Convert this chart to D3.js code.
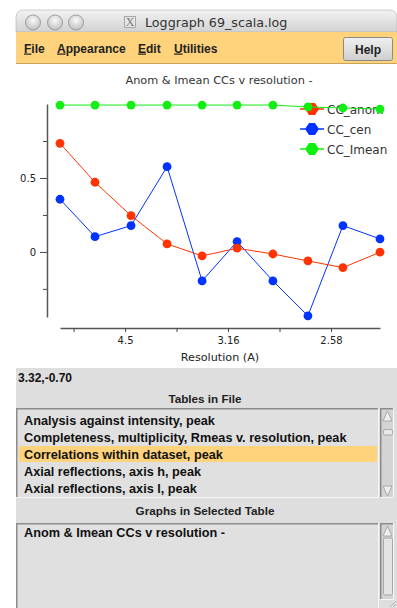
<!DOCTYPE html>
<html><head><meta charset="utf-8">
<script src="https://cdn.jsdelivr.net/npm/d3@7"></script>
<style>
html,body{margin:0;padding:0;background:#fff;}
svg{display:block;}
</style></head>
<body>
<svg id="c" width="397" height="608"></svg>
<script>
// ---------- data ----------
const chartTitle = "Anom & Imean CCs v resolution -";
const xLabel = "Resolution (A)";
const seriesNames = ["CC_anom", "CC_cen", "CC_Imean"];
const seriesColors = ["#ff3300", "#0033ff", "#11ee11"];
// x = 1/d^2 (4 sin^2 theta / lambda^2)
const invResSq = [0.0184, 0.0354, 0.0529, 0.0704, 0.0874, 0.1044, 0.1218, 0.1388, 0.1558, 0.1738];
const ccAnom  = [0.734, 0.471, 0.245, 0.054, -0.027, 0.025, -0.014, -0.061, -0.106, -0.002];
const ccCen   = [0.356, 0.103, 0.178, 0.576, -0.196, 0.070, -0.196, -0.432, 0.178, 0.088];
const ccImean = [0.993, 0.993, 0.993, 0.993, 0.993, 0.993, 0.993, 0.980, 0.973, 0.966];
const xTickValues = [0.025, 0.05, 0.075, 0.10, 0.125, 0.15];
const xTickLabels = ["", "4.5", "", "3.16", "", "2.58"];
const yTickValues = [-0.25, 0, 0.25, 0.5, 0.75];
const yTickLabels = ["", "0", "", "0.5", ""];
const windowTitle = "Loggraph 69_scala.log";
const menuItems = ["File", "Appearance", "Edit", "Utilities"];
const statusText = "3.32,-0.70";
const tablesInFile = ["Analysis against intensity, peak",
  "Completeness, multiplicity, Rmeas v. resolution, peak",
  "Correlations within dataset, peak",
  "Axial reflections, axis h, peak",
  "Axial reflections, axis l, peak"];
const selectedTable = 2;
const graphsInTable = ["Anom & Imean CCs v resolution -"];

// ---------- drawing ----------
const svg = d3.select("#c");
const defs = svg.append("defs");
const tg = defs.append("linearGradient").attr("id","tbar").attr("x1",0).attr("y1",0).attr("x2",0).attr("y2",1);
tg.append("stop").attr("offset","0%").attr("stop-color","#f2f2f2");
tg.append("stop").attr("offset","100%").attr("stop-color","#d2d2d2");
const bg = defs.append("linearGradient").attr("id","btn").attr("x1",0).attr("y1",0).attr("x2",0).attr("y2",1);
bg.append("stop").attr("offset","0%").attr("stop-color","#f0f0f0");
bg.append("stop").attr("offset","100%").attr("stop-color","#cfcfcf");
const cg = defs.append("radialGradient").attr("id","light").attr("cx","50%").attr("cy","35%").attr("r","60%");
cg.append("stop").attr("offset","0%").attr("stop-color","#fafafa");
cg.append("stop").attr("offset","100%").attr("stop-color","#c4c4c4");

// title bar
svg.append("path")
  .attr("d","M16,32 L16,18 Q16,10 24,10 L389,10 Q397,10 397,18 L397,32 Z")
  .attr("fill","url(#tbar)").attr("stroke","#b0b0b0").attr("stroke-width",0.6);
[33, 55, 76].forEach(cx => {
  svg.append("circle").attr("cx",cx).attr("cy",22.5).attr("r",7.5)
    .attr("fill","url(#light)").attr("stroke","#8e8e8e").attr("stroke-width",0.8);
});
svg.append("rect").attr("x",124.5).attr("y",16.5).attr("width",11).attr("height",11)
  .attr("fill","#e6e6e6").attr("stroke","#9a9a9a").attr("stroke-width",0.8);
svg.append("text").attr("x",130).attr("y",26).attr("text-anchor","middle")
  .attr("font-family","Liberation Serif").attr("font-size",12).attr("fill","#777").text("X");
svg.append("text").attr("x",145).attr("y",27).attr("font-family","DejaVu Sans")
  .attr("font-size",12.7).attr("fill","#333").text(windowTitle);

// menubar
svg.append("rect").attr("x",16).attr("y",32).attr("width",381).attr("height",32).attr("fill","#ffd27c");
svg.append("line").attr("x1",16).attr("x2",397).attr("y1",63.5).attr("y2",63.5).attr("stroke","#c9a45a");
const menuX = [24, 57, 138, 174];
menuItems.forEach((m,i) => {
  const t = svg.append("text").attr("x",menuX[i]).attr("y",52.5)
    .attr("font-family","Liberation Sans").attr("font-weight","bold").attr("font-size",12).attr("fill","#222");
  t.append("tspan").style("text-decoration","underline").text(m[0]);
  t.append("tspan").text(m.slice(1));
});
svg.append("rect").attr("x",343.5).attr("y",37.5).attr("width",49).attr("height",23).attr("rx",2)
  .attr("fill","url(#btn)").attr("stroke","#8a8a8a");
svg.append("text").attr("x",368).attr("y",53.5).attr("text-anchor","middle")
  .attr("font-family","Liberation Sans").attr("font-weight","bold").attr("font-size",12).attr("fill","#222").text("Help");

// plot
const x = d3.scaleLinear().domain([invResSq[0], invResSq[invResSq.length-1]]).range([60, 380]);
const y = d3.scaleLinear().domain([-0.44, 1.0]).range([317, 104]);

svg.append("text").attr("x",219).attr("y",84).attr("text-anchor","middle")
  .attr("font-family","DejaVu Sans").attr("font-size",11.3).attr("fill","#333").text(chartTitle);

const xAxis = svg.append("g").attr("transform","translate(0,328)")
  .call(d3.axisBottom(x).tickValues(xTickValues).tickSize(4).tickSizeOuter(0)
    .tickFormat((d,i) => xTickLabels[i]));
xAxis.selectAll("text").attr("font-family","DejaVu Sans").attr("font-size",10).attr("fill","#222").attr("y",9);
xAxis.select(".domain").attr("stroke","#555").attr("stroke-width",1.5);
xAxis.selectAll(".tick line").attr("stroke","#444");

const yAxis = svg.append("g").attr("transform","translate(47,0)")
  .call(d3.axisLeft(y).tickValues(yTickValues).tickSize(4).tickSizeOuter(0)
    .tickFormat((d,i) => yTickLabels[i]));
yAxis.selectAll("text").attr("font-family","DejaVu Sans").attr("font-size",10).attr("fill","#222").attr("x",-11);
yAxis.select(".domain").attr("stroke","#555").attr("stroke-width",1.5);
yAxis.selectAll(".tick line").attr("stroke","#444")
  .attr("x2",(d,i) => yTickLabels[i] ? -7 : -4);

svg.append("text").attr("x",220).attr("y",361).attr("text-anchor","middle")
  .attr("font-family","DejaVu Sans").attr("font-size",11.2).attr("fill","#222").text(xLabel);

// legend
const legY = [109, 129, 149];
const diamond = "M-7,0 L-3,-6 L3,-6 L7,0 L3,6 L-3,6 Z";
seriesNames.forEach((n,i) => {
  const g = svg.append("g").attr("transform",`translate(312,${legY[i]})`);
  g.append("line").attr("x1",-12).attr("x2",12).attr("stroke",seriesColors[i]).attr("stroke-width",1.5);
  g.append("path").attr("d",diamond).attr("fill",seriesColors[i]);
  g.append("text").attr("x",15).attr("y",4.5).attr("font-family","DejaVu Sans")
    .attr("font-size",12).attr("fill","#333").text(n);
});

// series: blue, red, green drawing order
const allSeries = [ccAnom, ccCen, ccImean];
const order = [1, 0, 2];
const lineGen = d3.line().x((d,i) => x(invResSq[i])).y(d => y(d));
order.forEach(si => {
  const vals = allSeries[si];
  svg.append("path").datum(vals).attr("d",lineGen).attr("fill","none")
    .attr("stroke",seriesColors[si]).attr("stroke-width",1);
  svg.append("g").selectAll("circle").data(vals).join("circle")
    .attr("cx",(d,i) => x(invResSq[i])).attr("cy",d => y(d)).attr("r",4.4)
    .attr("fill",seriesColors[si]);
});

// lower panel
svg.append("rect").attr("x",16).attr("y",368).attr("width",381).attr("height",240).attr("fill","#dedede");
svg.append("text").attr("x",18).attr("y",382).attr("font-family","Liberation Sans").attr("font-weight","bold")
  .attr("font-size",12).attr("fill","#111").text(statusText);
svg.append("text").attr("x",205).attr("y",402.5).attr("text-anchor","middle").attr("font-family","Liberation Sans")
  .attr("font-weight","bold").attr("font-size",11.7).attr("fill","#222").text("Tables in File");

function sunken(x0,y0,w,h,fill){
  svg.append("rect").attr("x",x0).attr("y",y0).attr("width",w).attr("height",h).attr("fill",fill || "#e0e0e0");
  svg.append("path").attr("d",`M${x0+0.75},${y0+h} L${x0+0.75},${y0+0.75} L${x0+w},${y0+0.75}`)
    .attr("fill","none").attr("stroke","#8c8c8c").attr("stroke-width",1.5);
  svg.append("path").attr("d",`M${x0+w-0.5},${y0} L${x0+w-0.5},${y0+h-0.5} L${x0},${y0+h-0.5}`)
    .attr("fill","none").attr("stroke","#f6f6f6");
}
sunken(16,408,363,90);
const rowH = 17;
svg.append("rect").attr("x",19).attr("y",420.5 + selectedTable*rowH - 8.5).attr("width",358).attr("height",16)
  .attr("fill","#ffd27c");
tablesInFile.forEach((t,i) => {
  svg.append("text").attr("x",24).attr("y",425 + i*rowH).attr("font-family","Liberation Sans")
    .attr("font-weight","bold").attr("font-size",12.7).attr("fill","#111").text(t);
});
// scrollbars
function scrollbar(x0,y0,h,thumbY,thumbH){
  sunken(x0,y0,14,h,"#d4d4d4");
  svg.append("path").attr("d",`M${x0+3},${y0+13} L${x0+7.5},${y0+3} L${x0+12},${y0+13} Z`)
    .attr("fill","#efefef").attr("stroke","#999").attr("stroke-width",0.8);
  svg.append("rect").attr("x",x0+3.5).attr("y",thumbY).attr("width",9).attr("height",thumbH).attr("rx",1.5)
    .attr("fill","#e8e8e8").attr("stroke","#9a9a9a").attr("stroke-width",0.8);
}
scrollbar(380,408,90,429.5,5.5);
svg.append("path").attr("d","M383,486 L387.5,496 L392,486 Z")
  .attr("fill","#efefef").attr("stroke","#999").attr("stroke-width",0.8);

svg.append("text").attr("x",205).attr("y",514.5).attr("text-anchor","middle").attr("font-family","Liberation Sans")
  .attr("font-weight","bold").attr("font-size",11.7).attr("fill","#222").text("Graphs in Selected Table");
sunken(16,523,363,90);
graphsInTable.forEach((t,i) => {
  svg.append("text").attr("x",24).attr("y",536.5 + i*rowH).attr("font-family","Liberation Sans")
    .attr("font-weight","bold").attr("font-size",12.7).attr("fill","#111").text(t);
});
svg.append("rect").attr("x",380).attr("y",523).attr("width",17).attr("height",85).attr("fill","#dedede");
sunken(380,523,14,77,"#d4d4d4");
svg.append("path").attr("d","M383,536 L387.5,526 L392,536 Z")
  .attr("fill","#efefef").attr("stroke","#999").attr("stroke-width",0.8);
svg.append("rect").attr("x",383.5).attr("y",538).attr("width",9).attr("height",57).attr("rx",1.5)
  .attr("fill","#e4e4e4").attr("stroke","#9a9a9a").attr("stroke-width",0.8);
svg.append("path").attr("d","M390,607 L396,601 M393,607 L396,604").attr("stroke","#aaa").attr("stroke-width",0.8);
</script>
</body></html>
